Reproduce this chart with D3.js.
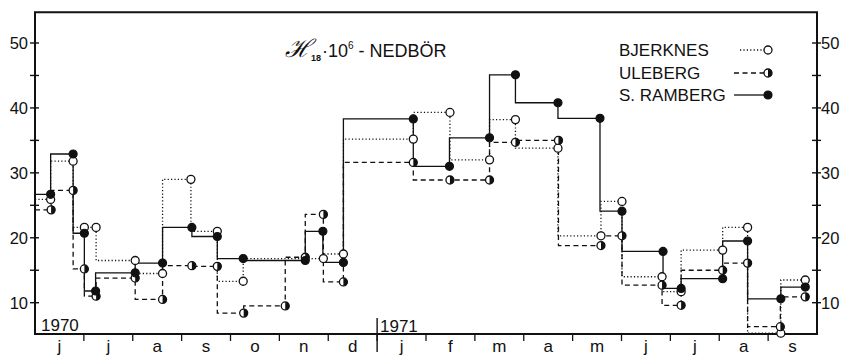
<!DOCTYPE html>
<html>
<head>
<meta charset="utf-8">
<script src="https://cdn.jsdelivr.net/npm/d3@7"></script>
<style>
  body { margin: 0; background: #fff; }
  text { font-family: "Liberation Sans", Arial, sans-serif; fill: #111; }
</style>
</head>
<body>
<main></main>
<script>
// month index from 1 June 1970 (0) to 1 Oct 1971 (16); each point closes a period
const monthLabels = ["j", "j", "a", "s", "o", "n", "d", "j", "f", "m", "a", "m", "j", "j", "a", "s"];
const yTicks = [10, 20, 30, 40, 50];
const yMinor = [15, 25, 35, 45];

const bjerknesX = [0, 0.32, 0.78, 1.01, 1.25, 2.05, 2.61, 3.19, 3.73, 4.26, 5.9, 6.31, 7.74, 8.49, 9.3, 9.83, 10.7, 11.58, 12.01, 12.83, 13.22, 14.07, 14.58, 15.26, 15.76];
const bjerknesV = [25.9, 25.9, 31.8, 21.6, 21.6, 16.5, 14.5, 29.0, 21.0, 13.3, 16.8, 17.5, 35.2, 39.3, 32.0, 38.2, 33.8, 20.3, 25.6, 14.0, 11.7, 18.1, 21.6, 5.3, 13.5];

const ulebergX = [0, 0.33, 0.78, 1.01, 1.25, 2.05, 2.61, 3.21, 3.73, 4.27, 5.12, 5.53, 5.9, 6.31, 7.74, 8.49, 9.3, 9.83, 10.71, 11.58, 12.01, 12.83, 13.22, 14.07, 14.58, 15.25, 15.76];
const ulebergV = [24.3, 24.3, 27.3, 15.2, 11.0, 13.8, 10.5, 15.7, 15.6, 8.4, 9.5, 17.0, 23.6, 13.2, 31.6, 28.9, 28.9, 34.7, 35.0, 18.8, 20.3, 12.7, 9.6, 15.0, 16.1, 6.3, 10.9];

const rambergX = [0, 0.32, 0.78, 1.01, 1.24, 2.05, 2.61, 3.21, 3.73, 4.26, 5.53, 5.89, 6.31, 7.74, 8.48, 9.3, 9.83, 10.7, 11.56, 12.01, 12.85, 13.22, 14.07, 14.58, 15.26, 15.76];
const rambergV = [26.7, 26.7, 32.9, 20.7, 11.8, 14.6, 16.1, 21.6, 20.2, 16.8, 16.5, 21.0, 16.2, 38.3, 31.0, 35.4, 45.1, 40.8, 38.4, 24.1, 17.9, 12.2, 13.7, 19.5, 10.6, 12.4];

const seriesNames = ["BJERKNES", "ULEBERG", "S. RAMBERG"];

const width = 854;
const height = 360;

const svg = d3.select("main").append("svg").attr("width", width).attr("height", height);

const xScale = d3.scaleLinear().domain([0, 16]).range([35, 817]);
const yScale = d3.scaleLinear().domain([10, 50]).range([302.7, 43]);
const yBottom = yScale(5.18);
const yTop = yScale(54.75);

const series = [
  { name: seriesNames[0], xs: bjerknesX, vs: bjerknesV, dash: "1.2,2.2", marker: "open" },
  { name: seriesNames[1], xs: ulebergX, vs: ulebergV, dash: "5,3.5", marker: "half" },
  { name: seriesNames[2], xs: rambergX, vs: rambergV, dash: null, marker: "full" },
];

const r = 4;

const drawMarker = (g, type, cx, cy) => {
  if (type === "full") {
    g.append("circle").attr("cx", cx).attr("cy", cy).attr("r", r)
      .attr("fill", "#111").attr("stroke", "#111").attr("stroke-width", 1.2);
    return;
  }
  g.append("circle").attr("cx", cx).attr("cy", cy).attr("r", r)
    .attr("fill", "#fff").attr("stroke", "#111").attr("stroke-width", 1.3);
  if (type === "half") {
    g.append("path")
      .attr("d", `M${cx},${cy - r}A${r},${r} 0 0 1 ${cx},${cy + r}Z`)
      .attr("fill", "#111");
  }
};

// frame
const frame = svg.append("g").attr("stroke", "#111").attr("stroke-width", 2).attr("fill", "none");
frame.append("path")
  .attr("d", `M${xScale(0)},${yTop}H${xScale(16)}V${yBottom}H${xScale(0)}Z`);

// y ticks both sides
const yAxisG = svg.append("g").attr("stroke", "#111").attr("stroke-width", 1.4);
[xScale(0), xScale(16)].forEach((ax) => {
  yAxisG.selectAll(null)
    .data(yTicks.concat(yMinor))
    .enter()
    .append("line")
    .attr("x1", ax - 5)
    .attr("x2", ax + 4)
    .attr("y1", (d) => yScale(d))
    .attr("y2", (d) => yScale(d));
});

svg.append("g")
  .selectAll("text")
  .data(yTicks)
  .enter()
  .append("text")
  .attr("x", 28)
  .attr("y", (d) => yScale(d))
  .attr("dy", "0.36em")
  .attr("text-anchor", "end")
  .style("font-size", "16.5px")
  .text((d) => d);

svg.append("g")
  .selectAll("text")
  .data(yTicks)
  .enter()
  .append("text")
  .attr("x", 821)
  .attr("y", (d) => yScale(d))
  .attr("dy", "0.36em")
  .style("font-size", "16.5px")
  .text((d) => d);

// month ticks and labels
svg.append("g")
  .attr("stroke", "#111")
  .attr("stroke-width", 1.3)
  .selectAll("line")
  .data(d3.range(1, 16))
  .enter()
  .append("line")
  .attr("x1", (d) => xScale(d))
  .attr("x2", (d) => xScale(d))
  .attr("y1", yBottom)
  .attr("y2", yBottom + 7);

svg.append("g")
  .selectAll("text")
  .data(monthLabels)
  .enter()
  .append("text")
  .attr("x", (d, i) => xScale(i + 0.5))
  .attr("y", 352)
  .attr("text-anchor", "middle")
  .style("font-size", "17px")
  .text((d) => d);

// year markers
svg.append("line")
  .attr("x1", xScale(7)).attr("x2", xScale(7))
  .attr("y1", 318).attr("y2", 352)
  .attr("stroke", "#111").attr("stroke-width", 1.4);
svg.append("text").attr("x", 41).attr("y", 331).style("font-size", "17px").text("1970");
svg.append("text").attr("x", 380).attr("y", 331.5).style("font-size", "17px").text("1971");

// step lines
const line = d3.line()
  .x((d) => xScale(d[0]))
  .y((d) => yScale(d[1]))
  .curve(d3.curveStepBefore);

series.forEach((s) => {
  const pts = s.xs.map((x, i) => [x, s.vs[i]]);
  svg.append("path")
    .datum(pts)
    .attr("d", line)
    .attr("fill", "none")
    .attr("stroke", "#111")
    .attr("stroke-width", 1.3)
    .attr("stroke-dasharray", s.dash);
});

series.forEach((s) => {
  const g = svg.append("g");
  s.xs.forEach((x, i) => {
    if (i === 0) return; // start of record at the axis, no reading
    drawMarker(g, s.marker, xScale(x), yScale(s.vs[i]));
  });
});

// title
const title = svg.append("text").attr("x", 285).attr("y", 57).style("font-size", "18px");
title.append("tspan").style("font-family", "DejaVu Serif, serif").style("font-style", "italic").style("font-size", "25px").text("ℋ");
title.append("tspan").attr("dy", 4).style("font-size", "9px").style("font-weight", "bold").text("18");
title.append("tspan").attr("dy", -4).attr("dx", 1).text("·10");
title.append("tspan").attr("dy", -8).style("font-size", "10px").text("6");
title.append("tspan").attr("dy", 8).text(" - NEDBÖR");

// legend
const legend = svg.append("g");
const legendY = [50, 73, 95];
series.forEach((s, i) => {
  legend.append("text")
    .attr("x", 619)
    .attr("y", legendY[i] + 6)
    .style("font-size", "17px")
    .text(s.name);
  legend.append("line")
    .attr("x1", i === 0 ? 740 : 734)
    .attr("x2", 765)
    .attr("y1", legendY[i])
    .attr("y2", legendY[i])
    .attr("stroke", "#111")
    .attr("stroke-width", 1.3)
    .attr("stroke-dasharray", s.dash);
  drawMarker(legend, s.marker, 768, legendY[i]);
});
</script>
</body>
</html>
